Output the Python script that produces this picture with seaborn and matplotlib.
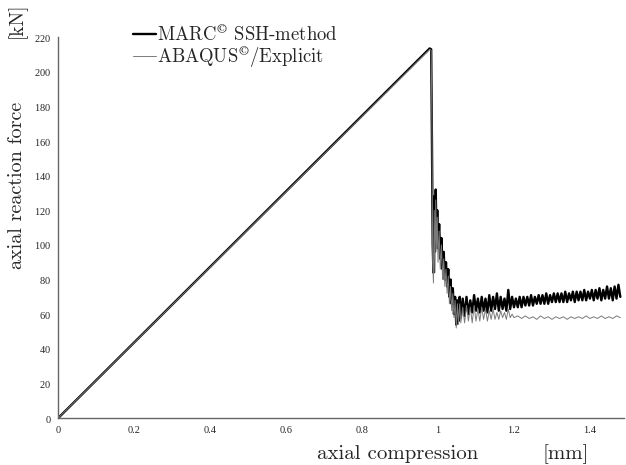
import numpy as np
import pandas as pd
import matplotlib
matplotlib.use("Agg")
import matplotlib.pyplot as plt
import seaborn as sns

# MARC SSH-method (black)
marc_x = [0.0, 0.978, 0.982, 0.984, 0.986, 0.988, 0.990, 0.992, 0.994, 0.996, 0.998, 1.000,
          1.003, 1.006, 1.009, 1.012, 1.015, 1.018, 1.021, 1.024, 1.027, 1.030, 1.033, 1.036,
          1.039, 1.042, 1.045, 1.048, 1.051, 1.054, 1.057, 1.060,
          1.065, 1.070, 1.075, 1.080, 1.085, 1.090, 1.095, 1.100, 1.105, 1.110, 1.115, 1.120,
          1.125, 1.130, 1.135, 1.140, 1.145, 1.150, 1.155, 1.160, 1.165, 1.170, 1.175, 1.180,
          1.185, 1.190, 1.195, 1.200, 1.205, 1.210, 1.215, 1.220, 1.225, 1.230, 1.235, 1.240,
          1.245, 1.250, 1.255, 1.260, 1.265, 1.270, 1.275, 1.280, 1.285, 1.290, 1.295, 1.300,
          1.305, 1.310, 1.315, 1.320, 1.325, 1.330, 1.335, 1.340, 1.345, 1.350, 1.355, 1.360,
          1.365, 1.370, 1.375, 1.380, 1.385, 1.390, 1.395, 1.400, 1.405, 1.410, 1.415, 1.420,
          1.425, 1.430, 1.435, 1.440, 1.445, 1.450, 1.455, 1.460, 1.465, 1.470, 1.475, 1.480]
marc_y = [0.0, 213.5, 213.0, 160, 100, 84, 128, 96, 132, 104, 120, 98,
          112, 92, 104, 86, 96, 80, 90, 76, 86, 70, 80, 66,
          75, 60, 70, 54, 68, 56, 70, 58,
          69, 59, 70, 60, 68, 61, 71, 62, 69, 61, 70, 62,
          69, 61, 71, 62, 70, 63, 72, 62, 70, 63, 69, 62,
          74, 63, 70, 64, 69, 64, 70, 64, 70, 65, 70, 65,
          71, 65, 70, 66, 71, 66, 71, 66, 72, 66, 71, 67,
          72, 67, 72, 67, 72, 67, 73, 67, 72, 68, 73, 67,
          73, 68, 73, 68, 74, 68, 73, 69, 74, 68, 74, 69,
          75, 68, 74, 69, 76, 69, 75, 68, 76, 69, 77, 70]

# ABAQUS/Explicit (grey)
abaqus_x = [0.0, 0.978, 0.982, 0.984, 0.986, 0.988, 0.990, 0.992, 0.994, 0.996, 0.998, 1.000,
            1.003, 1.006, 1.009, 1.012, 1.015, 1.018, 1.021, 1.024, 1.027, 1.030, 1.033, 1.036,
            1.039, 1.042, 1.045, 1.048, 1.051, 1.054, 1.057, 1.060,
            1.065, 1.070, 1.075, 1.080, 1.085, 1.090, 1.095, 1.100, 1.105, 1.110, 1.115, 1.120,
            1.125, 1.130, 1.135, 1.140, 1.145, 1.150, 1.155, 1.160, 1.165, 1.170, 1.175, 1.180,
            1.185, 1.190, 1.195, 1.200,
            1.21, 1.22, 1.23, 1.24, 1.25, 1.26, 1.27, 1.28, 1.29, 1.30, 1.31, 1.32, 1.33, 1.34,
            1.35, 1.36, 1.37, 1.38, 1.39, 1.40, 1.41, 1.42, 1.43, 1.44, 1.45, 1.46, 1.47, 1.48]
abaqus_y = [0.0, 213.0, 212.5, 170, 90, 78, 120, 84, 126, 98, 116, 90,
            108, 86, 100, 80, 92, 76, 86, 72, 82, 66, 76, 62,
            72, 58, 68, 52, 66, 54, 66, 55,
            64, 55, 65, 56, 64, 55, 65, 56, 63, 56, 64, 57,
            63, 56, 62, 57, 63, 57, 61, 57, 62, 58, 61, 57,
            63, 58, 60, 58,
            59, 57.5, 59, 57.5, 58.5, 57, 59, 57.5, 58.5, 57, 58.5, 57.5, 58.5, 57,
            58.5, 57.5, 58.5, 57.5, 59, 57.5, 58.5, 57.5, 59, 57.5, 58.5, 57.5, 59, 58]

x_ticks = [0, 0.2, 0.4, 0.6, 0.8, 1.0, 1.2, 1.4]
x_tick_labels = ["0", "0.2", "0.4", "0.6", "0.8", "1", "1.2", "1.4"]
y_ticks = list(range(0, 221, 20))

marc_label = "MARC$^{\\copyright}$ SSH-method"
abaqus_label = "ABAQUS$^{\\copyright}$/Explicit"

df = pd.concat([
    pd.DataFrame({"x": marc_x, "y": marc_y, "series": marc_label}),
    pd.DataFrame({"x": abaqus_x, "y": abaqus_y, "series": abaqus_label}),
], ignore_index=True)

sns.set_theme(style="white")
plt.rcParams["font.family"] = ["cmr10", "DejaVu Serif"]
plt.rcParams["mathtext.fontset"] = "cm"
plt.rcParams["axes.formatter.use_mathtext"] = True

fig = plt.figure(figsize=(6.26, 4.65), dpi=100)
ax = fig.add_axes([0.093, 0.101, 0.904, 0.819])

# thick black curve, thin grey one drawn over it
sns.lineplot(data=df[df["series"] == marc_label], x="x", y="y", color="black", lw=1.7,
             sort=False, estimator=None, errorbar=None, ax=ax, label=marc_label, zorder=2)
sns.lineplot(data=df[df["series"] == abaqus_label], x="x", y="y", color="#7a7a7a", lw=0.7,
             sort=False, estimator=None, errorbar=None, ax=ax, label=abaqus_label, zorder=3)

ax.set_xlim(0, 1.49)
ax.set_ylim(0, 220)
ax.set_xticks(x_ticks)
ax.set_xticklabels(x_tick_labels)
ax.set_yticks(y_ticks)
for lab in ax.get_xticklabels() + ax.get_yticklabels():
    lab.set_fontfamily("Liberation Serif")
    lab.set_fontsize(7.5)
ax.tick_params(axis="both", direction="out", length=3, width=0.6, color="#555555", pad=2)
ax.tick_params(axis="x", length=0, pad=6)

for s in ["top", "right"]:
    ax.spines[s].set_visible(False)
for s in ["left", "bottom"]:
    ax.spines[s].set_color("#666666")
    ax.spines[s].set_linewidth(1.0)

ax.set_xlabel("")
ax.set_ylabel("")
fig.text(398 / 626, 1 - 459 / 465, "axial compression", fontsize=15, ha="center", va="baseline")
fig.text(566 / 626, 1 - 459 / 465, "[mm]", fontsize=15, ha="center", va="baseline")
fig.text(17 / 626, 1 - 185 / 465, "axial reaction force", fontsize=14.5, ha="center",
         va="center", rotation=90)
fig.text(17 / 626, 1 - 20 / 465, "[kN]", fontsize=14, ha="center", va="center", rotation=90)

ax.legend(loc="upper left", bbox_to_anchor=(133 / 626, 1 - 24 / 465),
          bbox_transform=fig.transFigure, frameon=False, borderpad=0,
          handlelength=1.2, handletextpad=0.1, borderaxespad=0, labelspacing=-0.05,
          fontsize=13.5)

fig.savefig("out.png", dpi=100)
